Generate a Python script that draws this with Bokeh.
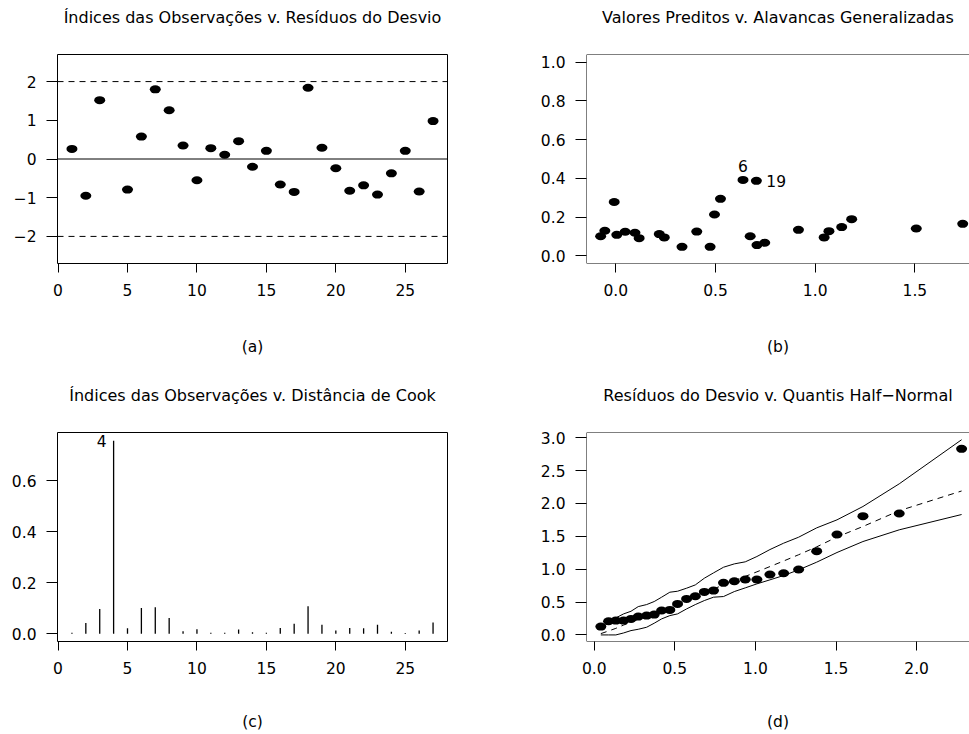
from bokeh.plotting import figure
from bokeh.layouts import gridplot
from bokeh.models import Span, FixedTicker, Range1d, LinearAxis
from bokeh.core.properties import value
from bokeh.embed import file_html
from bokeh.resources import INLINE

FONT = "DejaVu Sans"
FS = "15.5px"

# ---------------- data ----------------
obs_index = list(range(1, 28))
dev_resid = [0.26, -0.95, 1.52, 2.83, -0.79, 0.58, 1.80, 1.26, 0.35, -0.55,
             0.28, 0.11, 0.46, -0.20, 0.21, -0.66, -0.85, 1.84, 0.29, -0.24,
             -0.82, -0.68, -0.92, -0.37, 0.21, -0.84, 0.98]

pred_vals = [-0.076, -0.055, -0.008, 0.005, 0.047, 0.096, 0.117, 0.218, 0.243,
             0.332, 0.406, 0.473, 0.495, 0.525, 0.638, 0.674, 0.705, 0.708,
             0.747, 0.916, 1.045, 1.069, 1.133, 1.183, 1.507, 1.740]
leverage = [0.101, 0.129, 0.278, 0.108, 0.124, 0.119, 0.091, 0.112, 0.095,
            0.046, 0.125, 0.046, 0.213, 0.294, 0.392, 0.101, 0.387, 0.055,
            0.067, 0.134, 0.095, 0.127, 0.148, 0.189, 0.141, 0.165]
lev_label_text = ["6", "19"]
lev_label_pos = [14, 16]   # positions in the arrays above

cook_dist = [0.004, 0.043, 0.098, 0.758, 0.022, 0.101, 0.104, 0.062, 0.010,
             0.018, 0.004, 0.004, 0.017, 0.006, 0.004, 0.023, 0.040, 0.108,
             0.036, 0.013, 0.023, 0.022, 0.036, 0.008, 0.003, 0.013, 0.045]
cook_label_text = ["4"]
cook_label_pos = [3]

hn_quant = [0.041, 0.089, 0.134, 0.182, 0.228, 0.273, 0.325, 0.372, 0.418,
            0.469, 0.517, 0.573, 0.627, 0.683, 0.740, 0.802, 0.869, 0.937,
            1.009, 1.090, 1.175, 1.268, 1.380, 1.506, 1.667, 1.892, 2.279]
hn_resid = [0.127, 0.208, 0.218, 0.218, 0.244, 0.279, 0.294, 0.310, 0.371,
            0.381, 0.472, 0.548, 0.589, 0.655, 0.675, 0.792, 0.817, 0.843,
            0.843, 0.919, 0.939, 0.995, 1.274, 1.528, 1.807, 1.848, 2.832]
env_lower = [0.000, 0.000, 0.000, 0.030, 0.066, 0.086, 0.117, 0.178, 0.244,
             0.294, 0.320, 0.396, 0.462, 0.523, 0.574, 0.584, 0.660, 0.716,
             0.777, 0.838, 0.904, 0.990, 1.107, 1.254, 1.421, 1.599, 1.832]
env_upper = [0.107, 0.178, 0.259, 0.320, 0.360, 0.431, 0.462, 0.508, 0.574,
             0.650, 0.665, 0.711, 0.761, 0.863, 0.944, 1.030, 1.081, 1.112,
             1.193, 1.299, 1.396, 1.487, 1.629, 1.751, 1.954, 2.299, 2.970]
env_mid = [0.020, 0.060, 0.100, 0.150, 0.195, 0.240, 0.285, 0.330, 0.375,
           0.425, 0.470, 0.530, 0.585, 0.645, 0.700, 0.760, 0.825, 0.890,
           0.960, 1.040, 1.125, 1.220, 1.340, 1.490, 1.650, 1.890, 2.190]

titles = ["Índices das Observações v. Resíduos do Desvio",
          "Valores Preditos v. Alavancas Generalizadas",
          "Índices das Observações v. Distância de Cook",
          "Resíduos do Desvio v. Quantis Half\u2212Normal"]
panel_labels = ["(a)", "(b)", "(c)", "(d)"]

idx_ticks = [0, 5, 10, 15, 20, 25]


def fmt_int(v):
    return ("%g" % v).replace("-", "\u2212")


def fmt_1(v):
    return "%.1f" % v


def make_fig(width, height, xr, yr, borders, title, xlab, xticks, yticks,
             xfmt, yfmt, boxed=True, lab_standoff=30):
    left, right, top, bottom = borders
    p = figure(width=width, height=height,
               x_range=Range1d(*xr), y_range=Range1d(*yr),
               output_backend="svg", toolbar_location=None,
               min_border_left=left, min_border_right=right,
               min_border_top=top, min_border_bottom=bottom,
               background_fill_color="white", border_fill_color="white")
    p.grid.visible = False
    xa = p.below[0]
    ya = p.left[0]
    for ax, ticks, out, fmt in ((xa, xticks, 9, xfmt), (ya, yticks, 11, yfmt)):
        ax.ticker = FixedTicker(ticks=ticks, minor_ticks=[])
        ax.major_label_overrides = {t: fmt(t) for t in ticks}
        ax.axis_line_color = None
        ax.major_tick_in = 0
        ax.major_tick_out = out
        ax.minor_tick_in = 0
        ax.minor_tick_out = 0
        ax.major_tick_line_color = "black"
        ax.major_tick_line_width = 1
        ax.major_label_text_font = FONT
        ax.major_label_text_font_size = FS
        ax.major_label_text_color = "black"
    xa.major_label_standoff = 11
    ya.major_label_standoff = 10
    xa.axis_label = xlab
    xa.axis_label_text_font = FONT
    xa.axis_label_text_font_size = FS
    xa.axis_label_text_font_style = "normal"
    xa.axis_label_text_color = "black"
    xa.axis_label_standoff = lab_standoff
    # title drawn as the label of an empty axis above the frame
    tax = LinearAxis(ticker=FixedTicker(ticks=[], minor_ticks=[]),
                     axis_label=title, axis_line_color=None,
                     major_tick_line_color=None, minor_tick_line_color=None,
                     major_tick_in=0, major_tick_out=0,
                     minor_tick_in=0, minor_tick_out=0,
                     major_label_standoff=0,
                     major_label_text_font_size="0px",
                     axis_label_standoff=28,
                     axis_label_text_font=FONT,
                     axis_label_text_font_size="16px",
                     axis_label_text_font_style="normal",
                     axis_label_text_color="black")
    p.add_layout(tax, "above")
    if boxed:
        p.outline_line_color = "black"
        p.outline_line_width = 1
        p.outline_line_alpha = 1
    else:
        p.outline_line_color = None
        p.add_layout(Span(location=yr[0], dimension="width", line_color="black", line_width=1))
        p.add_layout(Span(location=yr[1], dimension="width", line_color="black", line_width=1))
        p.add_layout(Span(location=xr[0], dimension="height", line_color="black", line_width=1))
    return p


DOT_W, DOT_H = 11, 8

# (a)
pa = make_fig(484, 378, (-0.04, 28.04), (-2.7, 2.7), (57, 37, 54, 115),
              titles[0], panel_labels[0], idx_ticks, [-2, -1, 0, 1, 2],
              fmt_int, fmt_int, lab_standoff=39)
pa.add_layout(Span(location=2, dimension="width", line_color="black", line_dash="6 5", line_width=1))
pa.add_layout(Span(location=-2, dimension="width", line_color="black", line_dash="6 5", line_width=1))
pa.add_layout(Span(location=0, dimension="width", line_color="black", line_width=1))
pa.ellipse(x=obs_index, y=dev_resid, width=DOT_W, height=DOT_H,
           width_units="screen", height_units="screen",
           fill_color="black", line_color=None)

# (b)
pb = make_fig(485, 378, (-0.147, 1.774), (-0.04, 1.04), (102, 0, 54, 115),
              titles[1], panel_labels[1], [0, 0.5, 1.0, 1.5],
              [0, 0.2, 0.4, 0.6, 0.8, 1.0], fmt_1, fmt_1, boxed=False,
              lab_standoff=39)
pb.ellipse(x=pred_vals, y=leverage, width=DOT_W, height=DOT_H,
           width_units="screen", height_units="screen",
           fill_color="black", line_color=None)
pb.text(x=[pred_vals[lev_label_pos[0]]], y=[leverage[lev_label_pos[0]]],
        text=[lev_label_text[0]], text_align="center", text_baseline="middle",
        y_offset=-14, text_font=value(FONT), text_font_size=FS, text_color="black")
pb.text(x=[pred_vals[lev_label_pos[1]]], y=[leverage[lev_label_pos[1]]],
        text=[lev_label_text[1]], text_align="left", text_baseline="middle",
        x_offset=10, text_font=value(FONT), text_font_size=FS, text_color="black")

# (c)
pc = make_fig(484, 356, (-0.04, 28.04), (-0.03, 0.79), (57, 37, 54, 93),
              titles[2], panel_labels[2], idx_ticks, [0, 0.2, 0.4, 0.6],
              fmt_int, fmt_1, lab_standoff=36)
pc.segment(x0=obs_index, y0=[0] * len(obs_index), x1=obs_index, y1=cook_dist,
           line_color="black", line_width=1.3)
pc.text(x=[obs_index[cook_label_pos[0]]], y=[cook_dist[cook_label_pos[0]]],
        text=cook_label_text, text_align="right", text_baseline="middle",
        x_offset=-7, text_font=value(FONT), text_font_size=FS, text_color="black")

# (d)
pd_ = make_fig(485, 356, (-0.048, 2.328), (-0.10, 3.08), (102, 0, 54, 93),
               titles[3], panel_labels[3], [0, 0.5, 1.0, 1.5, 2.0],
               [0, 0.5, 1.0, 1.5, 2.0, 2.5, 3.0], fmt_1, fmt_1,
               boxed=False, lab_standoff=36)
pd_.line(hn_quant, env_lower, line_color="black", line_width=1)
pd_.line(hn_quant, env_upper, line_color="black", line_width=1)
pd_.line(hn_quant, env_mid, line_color="black", line_width=1, line_dash="6 5")
pd_.ellipse(x=hn_quant, y=hn_resid, width=DOT_W, height=DOT_H,
            width_units="screen", height_units="screen",
            fill_color="black", line_color=None)

grid = gridplot([[pa, pb], [pc, pd_]], toolbar_location=None)

open("out.html", "w").write(file_html(grid, INLINE))
